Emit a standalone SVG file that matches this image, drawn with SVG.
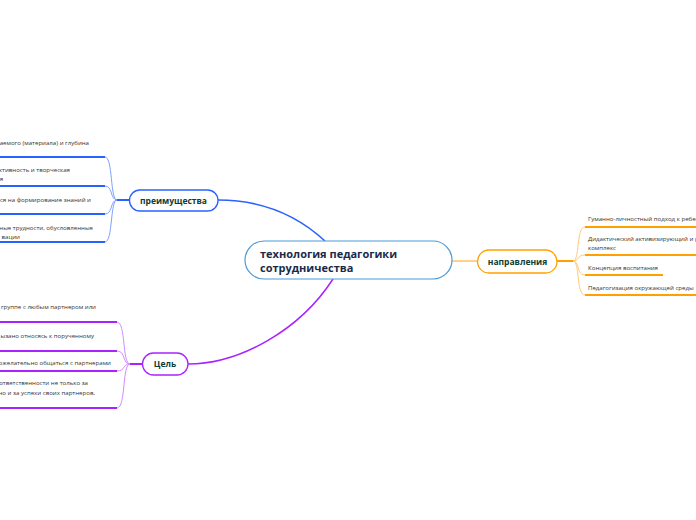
<svg xmlns="http://www.w3.org/2000/svg" width="696" height="520" viewBox="0 0 696 520">
<style>
.leaf{font-family:"Open Sans","Noto Sans",sans-serif;font-size:6.1px;fill:#333}
.nt{font-family:"Open Sans","Noto Sans",sans-serif;font-size:8.5px;font-weight:bold;fill:#0f3b30;text-anchor:middle}
.ct{font-family:"Open Sans","Noto Sans",sans-serif;font-size:11px;font-weight:bold;fill:#1b2a4a}
.ub{stroke:#2962ff;stroke-width:2;fill:none}
.cb{stroke:#7fa2ff;stroke-width:1;fill:none}
.up{stroke:#aa22ff;stroke-width:2;fill:none}
.cp{stroke:#cf8dff;stroke-width:1;fill:none}
.uo{stroke:#ffa000;stroke-width:2;fill:none}
.co{stroke:#ffca7a;stroke-width:1;fill:none}
</style>
<rect width="696" height="520" fill="#ffffff"/>
<g id="connectors">
<path d="M218,200 C262,200 298,216 325,241" stroke="#2962ff" stroke-width="1.5" fill="none"/>
<path d="M333,279 C300,330 240,364 188,364" stroke="#aa22ff" stroke-width="1.5" fill="none"/>
<path d="M452,261 L477,261" stroke="#ffc06a" stroke-width="1.5" fill="none"/>
<path d="M129,200 L117,200" class="ub" stroke-width="1.5"/>
<path d="M117,200 C110,200 113,157 105,157" class="cb"/>
<path d="M117,200 C110,200 113,186 105,186" class="cb"/>
<path d="M117,200 C110,200 113,214 105,214" class="cb"/>
<path d="M117,200 C110,200 113,242 105,242" class="cb"/>
<path d="M142,364 L130,364" class="up" stroke-width="1.5"/>
<path d="M130,364 C122,364 126,322 117,322" class="cp"/>
<path d="M130,364 C122,364 126,351 117,351" class="cp"/>
<path d="M130,364 C122,364 126,371 117,371" class="cp"/>
<path d="M130,364 C122,364 126,408 117,408" class="cp"/>
<path d="M557,261 L573,261" class="uo" stroke-width="1.5"/>
<path d="M573,261 C580,261 576,227 585,227" class="co"/>
<path d="M573,261 C580,261 576,255 585,255" class="co"/>
<path d="M573,261 C580,261 576,275 585,275" class="co"/>
<path d="M573,261 C580,261 576,295 585,295" class="co"/>
</g>
<g id="central">
<rect x="245" y="241" width="207" height="38" rx="19" fill="#fff" stroke="#4a9ad8" stroke-width="1.2"/>
<text class="ct" x="260" y="258">технология педагогики</text>
<text class="ct" x="260" y="272">сотрудничества</text>
</g>
<g id="preim">
<rect x="129.5" y="190" width="88.5" height="21" rx="10.5" fill="#fff" stroke="#2962ff" stroke-width="1.3"/>
<text class="nt" x="173.5" y="203.5">преимущества</text>
</g>
<g id="preim-leaf1">
<text class="leaf" x="89" y="144.5" text-anchor="end">аемого (материала) и глубина</text>
<path d="M0,157 L105,157" class="ub"/>
</g>
<g id="preim-leaf2">
<text class="leaf" x="70" y="171.5" text-anchor="end">ктивность и творческая</text>
<text class="leaf" x="3" y="180.5" text-anchor="end">я</text>
<path d="M0,186 L105,186" class="ub"/>
</g>
<g id="preim-leaf3">
<text class="leaf" x="91" y="201.5" text-anchor="end">ся на формирование знаний и</text>
<path d="M0,214 L105,214" class="ub"/>
</g>
<g id="preim-leaf4">
<text class="leaf" x="93" y="229.5" text-anchor="end">ные трудности, обусловленные</text>
<text class="leaf" x="20" y="238.5" text-anchor="end">вации</text>
<path d="M0,242 L105,242" class="ub"/>
</g>
<g id="cel">
<rect x="142.5" y="353" width="45.5" height="22" rx="11" fill="#fff" stroke="#aa22ff" stroke-width="1.3"/>
<text class="nt" x="165" y="367">Цель</text>
</g>
<g id="cel-leaf1">
<text class="leaf" x="96" y="308.5" text-anchor="end">а группе с любым партнером или</text>
<path d="M0,322 L117,322" class="up"/>
</g>
<g id="cel-leaf2">
<text class="leaf" x="94" y="337.5" text-anchor="end">ызано относясь к порученному</text>
<path d="M0,351 L117,351" class="up"/>
</g>
<g id="cel-leaf3">
<text class="leaf" x="111" y="364.5" text-anchor="end">рожелательно общаться с партнерами</text>
<path d="M0,371 L117,371" class="up"/>
</g>
<g id="cel-leaf4">
<text class="leaf" x="88" y="384.5" text-anchor="end">ответственности не только за</text>
<text class="leaf" x="95" y="394.5" text-anchor="end">но и за успехи своих партнеров,</text>
<path d="M0,408 L117,408" class="up"/>
</g>
<g id="napr">
<rect x="477.5" y="250" width="79.5" height="23" rx="11.5" fill="#fff" stroke="#ffa000" stroke-width="1.3"/>
<text class="nt" x="517.5" y="264.5">направления</text>
</g>
<g id="napr-leaf1">
<text class="leaf" x="588" y="221">Гуманно-личностный подход к ребенку</text>
<path d="M585,227 L696,227" class="uo"/>
</g>
<g id="napr-leaf2">
<text class="leaf" x="588" y="241">Дидактический активизирующий и развивающий</text>
<text class="leaf" x="588" y="250">комплекс</text>
<path d="M585,255 L696,255" class="uo"/>
</g>
<g id="napr-leaf3">
<text class="leaf" x="588" y="270">Концепция воспитания</text>
<path d="M585,275 L663,275" class="uo"/>
</g>
<g id="napr-leaf4">
<text class="leaf" x="588" y="290">Педагогизация окружающей среды</text>
<path d="M585,295 L696,295" class="uo"/>
</g>
</svg>
